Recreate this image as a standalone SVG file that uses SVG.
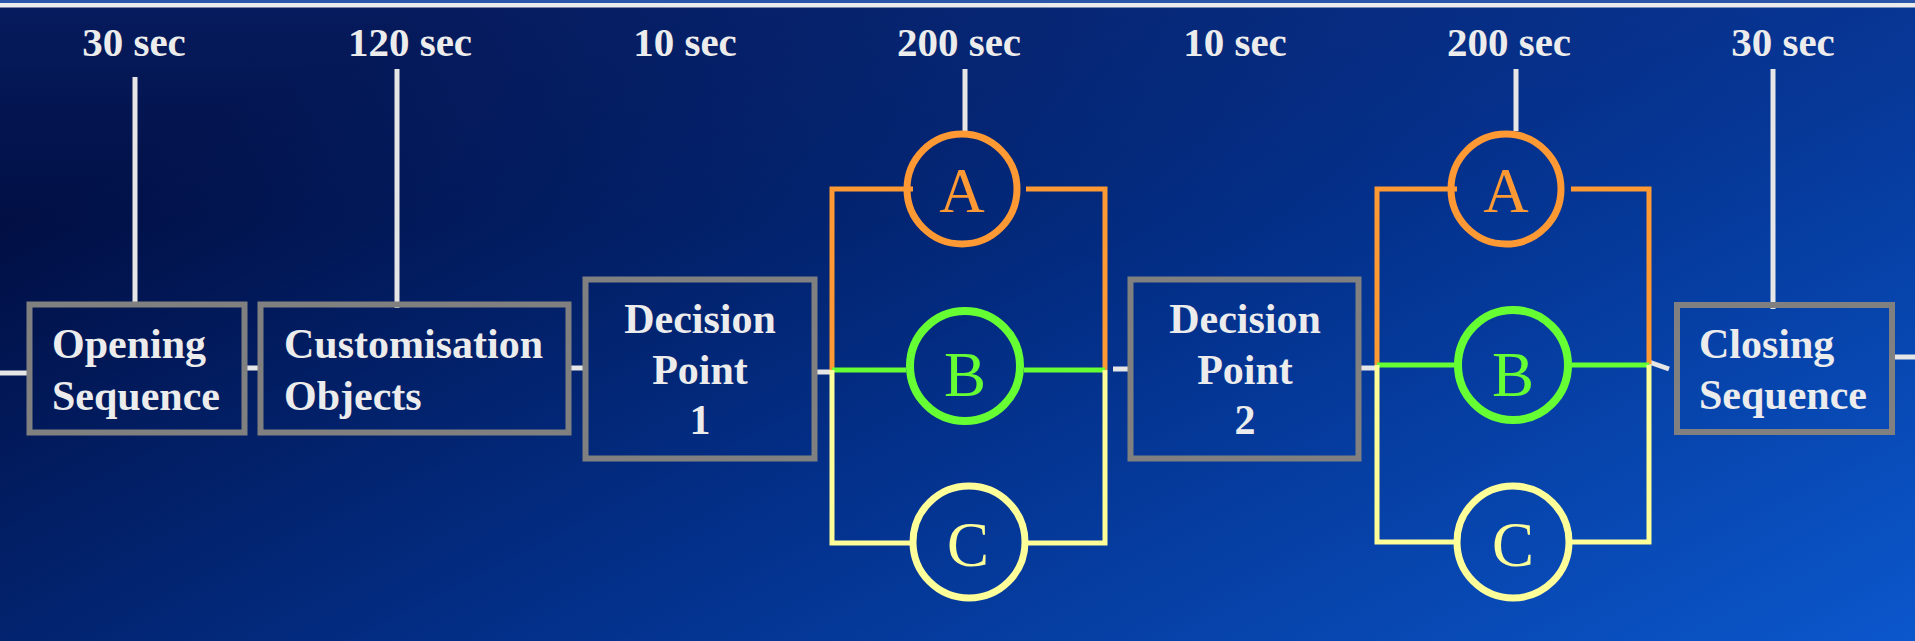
<svg xmlns="http://www.w3.org/2000/svg" width="1915" height="641" viewBox="0 0 1915 641">
  <defs>
    <linearGradient id="bg" x1="0" y1="0.35" x2="1" y2="1">
      <stop offset="0" stop-color="#010f44"/>
      <stop offset="0.5" stop-color="#03318c"/>
      <stop offset="1" stop-color="#0b57cc"/>
    </linearGradient>
    <linearGradient id="topglow" x1="0" y1="0" x2="0" y2="1">
      <stop offset="0" stop-color="#12389a" stop-opacity="0.3"/>
      <stop offset="0.35" stop-color="#12389a" stop-opacity="0"/>
    </linearGradient>
  </defs>
  <style>
    .box { fill: none; stroke: #808080; stroke-width: 6; }
    .lbl { font-family: "Liberation Serif", "Times New Roman", serif; font-weight: bold; font-size: 42px; fill: #ececec; }
    .time { font-family: "Liberation Serif", "Times New Roman", serif; font-weight: bold; font-size: 41px; fill: #ececec; text-anchor: middle; }
    .tick { stroke: #e6e6e6; stroke-width: 5; fill: none; }
    .wire { stroke: #e6e6e6; stroke-width: 5; fill: none; }
    .or { stroke: #ff9933; stroke-width: 5; fill: none; }
    .gr { stroke: #66ff33; stroke-width: 5; fill: none; }
    .ye { stroke: #ffff99; stroke-width: 5; fill: none; }
    .letter { font-family: "Liberation Serif", "Times New Roman", serif; font-size: 63px; text-anchor: middle; }
  </style>
  <rect x="0" y="0" width="1915" height="641" fill="url(#bg)"/>
  <rect x="0" y="0" width="1915" height="641" fill="url(#topglow)"/>
  <rect x="0" y="0" width="1915" height="3" fill="#2a55a8"/>
  <rect x="0" y="3" width="1915" height="4.5" fill="#ececec"/>

  <g id="time-labels">
    <text class="time" x="134" y="56">30 sec</text>
    <text class="time" x="410" y="56">120 sec</text>
    <text class="time" x="685" y="56">10 sec</text>
    <text class="time" x="959" y="56">200 sec</text>
    <text class="time" x="1235" y="56">10 sec</text>
    <text class="time" x="1509" y="56">200 sec</text>
    <text class="time" x="1783" y="56">30 sec</text>
  </g>

  <g id="connectors">
    <line class="tick" x1="135" y1="77" x2="135" y2="303"/>
    <line class="tick" x1="397" y1="69" x2="397" y2="308"/>
    <line class="tick" x1="965" y1="69" x2="965" y2="131"/>
    <line class="tick" x1="1516" y1="69" x2="1516" y2="131"/>
    <line class="tick" x1="1773" y1="69" x2="1773" y2="309"/>

    <line class="wire" x1="0" y1="373" x2="28" y2="373"/>
    <line class="wire" x1="246" y1="368" x2="259" y2="368"/>
    <line class="wire" x1="570" y1="368" x2="584" y2="368"/>
    <line class="wire" x1="816" y1="372" x2="832" y2="372"/>
    <line class="wire" x1="1113" y1="369" x2="1130" y2="369"/>
    <line class="wire" x1="1359" y1="368" x2="1377" y2="368"/>
    <line class="wire" x1="1649" y1="362" x2="1669" y2="369"/>
    <line class="wire" x1="1893" y1="357" x2="1915" y2="357"/>

    <!-- branch set 1 -->
    <polyline class="or" points="913,189 832,189 832,370"/>
    <polyline class="or" points="1026,189 1105,189 1105,370"/>
    <line class="gr" x1="832" y1="370" x2="906" y2="370"/>
    <line class="gr" x1="1024" y1="370" x2="1105" y2="370"/>
    <polyline class="ye" points="832,370 832,543 910,543"/>
    <polyline class="ye" points="1028,543 1105,543 1105,370"/>

    <!-- branch set 2 -->
    <polyline class="or" points="1457,189 1377,189 1377,365"/>
    <polyline class="or" points="1571,189 1649,189 1649,364"/>
    <line class="gr" x1="1377" y1="365" x2="1455" y2="365"/>
    <line class="gr" x1="1571" y1="365" x2="1649" y2="365"/>
    <polyline class="ye" points="1377,365 1377,542 1455,542"/>
    <polyline class="ye" points="1571,542 1649,542 1649,365"/>
  </g>

  <g id="opening">
    <rect class="box" x="29.5" y="304.5" width="215" height="128"/>
    <text class="lbl" x="52" y="358">Opening</text>
    <text class="lbl" x="52" y="410">Sequence</text>
  </g>
  <g id="customisation">
    <rect class="box" x="260.5" y="304.5" width="308" height="128"/>
    <text class="lbl" x="284" y="358">Customisation</text>
    <text class="lbl" x="284" y="410">Objects</text>
  </g>
  <g id="decision1">
    <rect class="box" x="585.5" y="279.5" width="229" height="179"/>
    <text class="lbl" x="700" y="333" text-anchor="middle">Decision</text>
    <text class="lbl" x="700" y="384" text-anchor="middle">Point</text>
    <text class="lbl" x="700" y="434" text-anchor="middle">1</text>
  </g>
  <g id="decision2">
    <rect class="box" x="1130.5" y="279.5" width="228" height="179"/>
    <text class="lbl" x="1245" y="333" text-anchor="middle">Decision</text>
    <text class="lbl" x="1245" y="384" text-anchor="middle">Point</text>
    <text class="lbl" x="1245" y="434" text-anchor="middle">2</text>
  </g>
  <g id="closing">
    <rect class="box" x="1677" y="305" width="215" height="127"/>
    <text class="lbl" x="1699" y="358">Closing</text>
    <text class="lbl" x="1699" y="409">Sequence</text>
  </g>

  <g id="option-a1">
    <circle cx="962" cy="189" r="55" fill="none" stroke="#ff9933" stroke-width="7"/>
    <text class="letter" x="962" y="212" fill="#ff9933">A</text>
  </g>
  <g id="option-b1">
    <circle cx="965" cy="366" r="55" fill="none" stroke="#66ff33" stroke-width="8"/>
    <text class="letter" x="965" y="396" fill="#66ff33">B</text>
  </g>
  <g id="option-c1">
    <circle cx="969" cy="542" r="56" fill="none" stroke="#ffff99" stroke-width="7"/>
    <text class="letter" x="968" y="566" fill="#ffff99">C</text>
  </g>
  <g id="option-a2">
    <circle cx="1506" cy="189" r="55" fill="none" stroke="#ff9933" stroke-width="7"/>
    <text class="letter" x="1506" y="212" fill="#ff9933">A</text>
  </g>
  <g id="option-b2">
    <circle cx="1513" cy="365" r="55" fill="none" stroke="#66ff33" stroke-width="8"/>
    <text class="letter" x="1513" y="396" fill="#66ff33">B</text>
  </g>
  <g id="option-c2">
    <circle cx="1513" cy="542" r="56" fill="none" stroke="#ffff99" stroke-width="7"/>
    <text class="letter" x="1513" y="566" fill="#ffff99">C</text>
  </g>
</svg>
